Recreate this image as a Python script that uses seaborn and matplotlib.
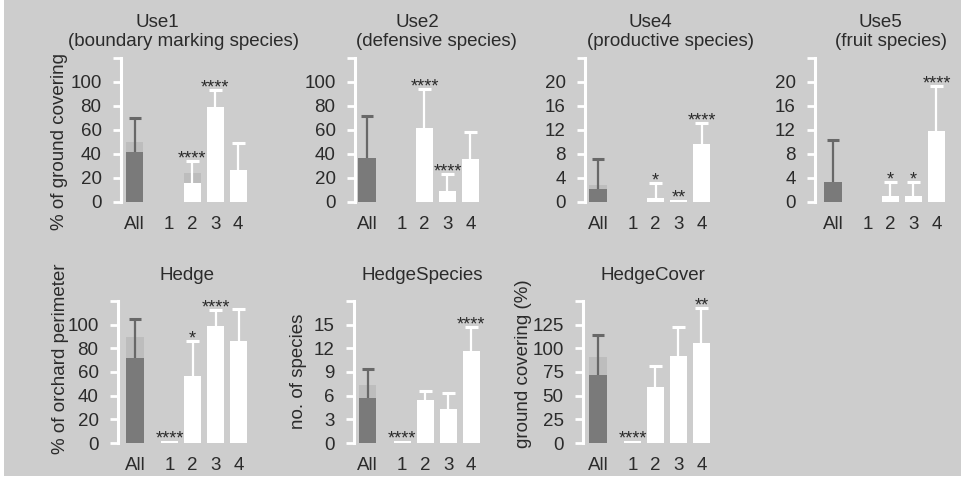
import matplotlib
matplotlib.use("Agg")
import matplotlib.pyplot as plt
from matplotlib.patches import Rectangle
import seaborn as sns
import pandas as pd
import numpy as np

# ---------------- data ----------------
groups = ["All", "1", "2", "3", "4"]
positions = [0, 1.5, 2.5, 3.5, 4.5]

use1_mean = [42, 0, 16, 79, 27]
use1_upper = [70, 0, 34, 93, 49]
use1_ghost = [50, 0, 24, 0, 0]
use1_stars = ["", "", "****", "****", ""]

use2_mean = [37, 0, 62, 9, 35.5]
use2_upper = [72, 0, 94, 23.5, 58]
use2_ghost = [0, 0, 0, 0, 0]
use2_stars = ["", "", "****", "****", ""]

use4_mean = [2.2, 0, 0.75, 0.35, 9.6]
use4_upper = [7.1, 0, 3.1, 0.35, 13.2]
use4_ghost = [2.8, 0, 0, 0, 0]
use4_stars = ["", "", "*", "**", "****"]

use5_mean = [3.3, 0, 1.0, 1.0, 11.8]
use5_upper = [10.3, 0, 3.4, 3.4, 19.3]
use5_ghost = [0, 0, 0, 0, 0]
use5_stars = ["", "", "*", "*", "****"]

hedge_mean = [72, 1.4, 57, 99, 86]
hedge_upper = [105, 1.4, 86, 112, 113]
hedge_ghost = [90, 0, 0, 0, 0]
hedge_stars = ["", "****", "*", "****", ""]

hspec_mean = [5.7, 0.2, 5.4, 4.3, 11.7]
hspec_upper = [9.4, 0.2, 6.6, 6.3, 14.7]
hspec_ghost = [7.3, 0, 0, 0, 0]
hspec_stars = ["", "****", "", "", "****"]

hcov_mean = [72, 1.7, 59, 92, 105.6]
hcov_upper = [114, 1.7, 81, 122.5, 143]
hcov_ghost = [90.5, 0, 0, 0, 0]
hcov_stars = ["", "****", "", "", "**"]

# ---------------- style ----------------
BG = "#cdcdcd"
DARK = "#7a7a7a"
DARK_ERR = "#686868"
GHOST = "#bdbdbd"
TXT = "#2b2b2b"
FS = 13.5

sns.set_theme(style="white")
plt.rcParams['font.family'] = ['Liberation Sans', 'DejaVu Sans']

W, H = 962, 480
SP = 23.0  # pixels per x unit
fig = plt.figure(figsize=(W / 100, H / 100), dpi=100, facecolor=BG)
fig.patches.append(Rectangle((0, 0), 4 / W, 1, transform=fig.transFigure,
                             facecolor="white", edgecolor="none", zorder=-5))
fig.patches.append(Rectangle((0, 0), 1, 4 / H, transform=fig.transFigure,
                             facecolor="white", edgecolor="none", zorder=-5))

palette = {"All": DARK, "1": "white", "2": "white", "3": "white", "4": "white"}


def panel(spine_x, zero_y, top_y, xleft, ytop, ystep, mean, upper, ghost, stars):
    xright = 4.95
    wpx = (xright - xleft) * SP
    ax = fig.add_axes([spine_x / W, 1 - zero_y / H, wpx / W, (zero_y - top_y) / H])
    ax.set_facecolor("none")
    df = pd.DataFrame({"pos": positions, "mean": mean, "ghost": ghost, "grp": groups})
    sns.barplot(data=df, x="pos", y="ghost", color=GHOST, native_scale=True,
                width=0.75, errorbar=None, saturation=1, ax=ax, zorder=1,
                linewidth=0, edgecolor="none")
    sns.barplot(data=df, x="pos", y="mean", hue="grp", palette=palette,
                native_scale=True, width=0.75, errorbar=None, saturation=1,
                dodge=False, legend=False, ax=ax, zorder=2,
                linewidth=0, edgecolor="none")
    for p, m, u, g, s in zip(positions, mean, upper, groups, stars):
        c = DARK_ERR if g == "All" else "white"
        if u > m:
            ax.plot([p, p], [m, u], color=c, lw=1.6, zorder=1.5, solid_capstyle="butt")
            ax.plot([p - 0.27, p + 0.27], [u, u], color=c, lw=2.2, zorder=1.5,
                    solid_capstyle="butt")
        if s:
            ax.annotate(s, (p, u), xytext=(0, -1.8), textcoords="offset points",
                        ha="center", va="baseline", fontsize=13, color=TXT, zorder=3)
    ax.set_xlim(xleft, xright)
    ax.set_ylim(0, ytop)
    ticks = np.arange(0, ytop + ystep / 2, ystep)
    ax.set_yticks(ticks)
    ax.set_yticklabels([f"{t:g}" for t in ticks[:-1]] + [""])
    ax.set_xticks(positions)
    ax.set_xticklabels(groups)
    ax.set_xlabel("")
    ax.set_ylabel("")
    for sp in ["top", "right", "bottom"]:
        ax.spines[sp].set_visible(False)
    ax.spines["left"].set_color("white")
    ax.spines["left"].set_linewidth(2.2)
    ax.tick_params(axis="y", left=True, colors="white", length=6, width=2,
                   pad=8, labelcolor=TXT, labelsize=FS)
    ax.tick_params(axis="x", bottom=False, length=0, pad=10, labelcolor=TXT,
                   labelsize=FS)
    ax.grid(False)
    return ax


TOP_ZERO, TOP_TOP = 202, 58
BOT_ZERO, BOT_TOP = 443, 301

panel(121, TOP_ZERO, TOP_TOP, -0.6, 120, 20, use1_mean, use1_upper, use1_ghost, use1_stars)
panel(355, TOP_ZERO, TOP_TOP, -0.52, 120, 20, use2_mean, use2_upper, use2_ghost, use2_stars)
panel(585, TOP_ZERO, TOP_TOP, -0.57, 24, 4, use4_mean, use4_upper, use4_ghost, use4_stars)
panel(815, TOP_ZERO, TOP_TOP, -0.78, 24, 4, use5_mean, use5_upper, use5_ghost, use5_stars)
panel(118, BOT_ZERO, BOT_TOP, -0.74, 120, 20, hedge_mean, hedge_upper, hedge_ghost, hedge_stars)
panel(354, BOT_ZERO, BOT_TOP, -0.6, 18, 3, hspec_mean, hspec_upper, hspec_ghost, hspec_stars)
panel(583, BOT_ZERO, BOT_TOP, -0.65, 150, 25, hcov_mean, hcov_upper, hcov_ghost, hcov_stars)

titles = [
    ("Use1", 157, 27), ("(boundary marking species)", 184, 46),
    ("Use2", 417, 27), ("(defensive species)", 436, 46),
    ("Use4", 650, 27), ("(productive species)", 671, 46),
    ("Use5", 880, 27), ("(fruit species)", 891, 46),
    ("Hedge", 187, 280),
    ("HedgeSpecies", 422, 280),
    ("HedgeCover", 653, 280),
]
for t, x, y in titles:
    fig.text(x / W, 1 - y / H, t, ha="center", va="baseline", fontsize=FS,
             color=TXT)

ylabels = [
    ("% of ground covering", 60, 142),
    ("% of orchard perimeter", 61, 359),
    ("no. of species", 299, 371),
    ("ground covering (%)", 524, 364),
]
for t, x, y in ylabels:
    fig.text(x / W, 1 - y / H, t, ha="center", va="center", rotation=90,
             fontsize=FS, color=TXT)

fig.savefig("out.png", dpi=100, facecolor=BG)
